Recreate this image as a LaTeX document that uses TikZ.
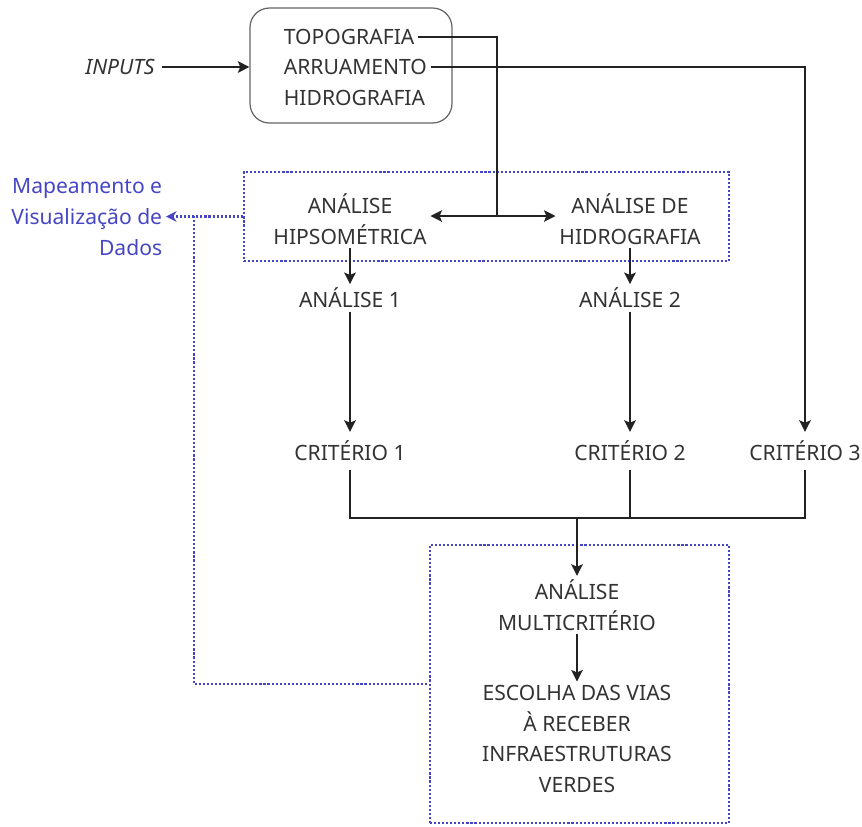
\documentclass[tikz,border=0pt]{standalone}
\usepackage{fontspec}
\setmainfont{Noto Sans}
\usetikzlibrary{arrows.meta}
\definecolor{ink}{HTML}{333333}
\definecolor{wire}{HTML}{222222}
\definecolor{dotblue}{HTML}{4646C4}

\begin{document}
\begin{tikzpicture}[x=0.02cm,y=-0.02cm,
  lbl/.style={text=ink,font=\fontsize{12}{17.4}\selectfont,align=center,inner sep=2pt},
  link/.style={draw=wire,line width=1.4pt},
  tip/.style={-{Stealth[length=6.5pt,width=6.5pt,inset=1.3pt]}},
  zone/.style={draw=dotblue,line width=1.3pt,dash pattern=on 1.2pt off 1.1pt},
  inbox/.style={draw=black!60,line width=0.7pt,rounded corners=11pt}]
  \useasboundingbox (0,0) rectangle (862,826);

  % entrada
  \node[inbox,minimum width=4.04cm,minimum height=2.3cm] (source) at (351,65.5) {};
  \node[lbl,anchor=west] (topo) at (280,37) {TOPOGRAFIA};
  \node[lbl,anchor=west] (arru) at (280,67) {ARRUAMENTO};
  \node[lbl,anchor=west] (hidro) at (280,98) {HIDROGRAFIA};
  \node[lbl,anchor=east,font=\fontsize{12}{14}\itshape,inner sep=4pt] (inputs) at (162,67) {INPUTS};

  % analises
  \node[zone,minimum width=9.7cm,minimum height=1.78cm] (mapzone) at (486.5,216.5) {};
  \node[lbl] (hipso) at (350,219) {ANÁLISE\\HIPSOMÉTRICA};
  \node[lbl] (hidan) at (630,219) {ANÁLISE DE\\HIDROGRAFIA};
  \node[lbl] (an1) at (350,298) {ANÁLISE 1};
  \node[lbl] (an2) at (630,298) {ANÁLISE 2};
  \node[lbl,inner sep=5pt] (crit1) at (350,451) {CRITÉRIO 1};
  \node[lbl,inner sep=5pt] (crit2) at (630,451) {CRITÉRIO 2};
  \node[lbl,inner sep=5pt] (crit3) at (805,451) {CRITÉRIO 3};
  \node[lbl,text=dotblue,align=right,anchor=east] (mapnote) at (166,217) {Mapeamento e\\Visualização de\\Dados};

  % resultado
  \node[zone,minimum width=5.98cm,minimum height=5.56cm] (outbox) at (579.5,684) {};
  \node[lbl] (multi) at (577,605) {ANÁLISE\\MULTICRITÉRIO};
  \node[lbl] (choice) at (577,739) {ESCOLHA DAS VIAS\\À RECEBER\\INFRAESTRUTURAS\\VERDES};

  \coordinate (split) at (497,216);
  \coordinate (merge) at (577,518);
  \coordinate (tap) at (194,216);

  \draw[link,tip] (inputs.east) -- (inputs.east -| source.west);
  \draw[link] (topo.east) -| (split);
  \draw[link,tip] (split) -- (split -| hipso.east);
  \draw[link,tip] (split) -- (split -| hidan.west);
  \draw[link,tip] (arru.east) -| (crit3.north);
  \draw[link,tip] (hipso) -- (an1);
  \draw[link,tip] (hidan) -- (an2);
  \draw[link,tip] (an1) -- (crit1);
  \draw[link,tip] (an2) -- (crit2);
  \draw[link] (crit1.south) |- (merge) -| (crit3.south);
  \draw[link] (crit2.south) -- (crit2.south |- merge);
  \draw[link,tip] (merge) -- (multi.north);
  \draw[link,tip] (multi) -- (choice);

  % mapeamento
  \draw[zone,-{Stealth[length=6pt,width=6pt]}] (mapzone.west) -- (mapzone.west -| mapnote.east);
  \draw[zone] (tap) |- (outbox.west);
\end{tikzpicture}
\end{document}
